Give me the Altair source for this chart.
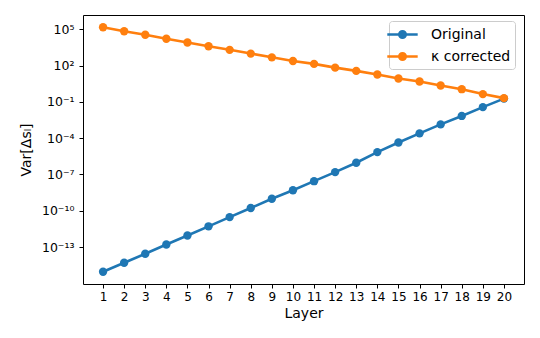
import altair as alt
import pandas as pd

layers = list(range(1, 21))
original = [9.1e-16, 5.1e-15, 2.8e-14, 1.62e-13, 9.1e-13, 5.2e-12, 3.0e-11, 1.7e-10,
            9.8e-10, 5.0e-9, 2.8e-8, 1.58e-7, 9.3e-7, 7.1e-6, 4.4e-5, 2.5e-4,
            1.38e-3, 6.9e-3, 3.7e-2, 0.186]
kappa = [1.48e5, 6.8e4, 3.55e4, 1.66e4, 8.1e3, 4.0e3, 2.0e3, 9.8e2, 4.8e2, 2.4e2,
         1.38e2, 67.6, 36.3, 18.2, 8.5, 4.8, 2.24, 1.12, 0.44, 0.204]
series = ["Original", "κ corrected"]
colors = ["#1f77b4", "#ff7f0e"]
y_ticks = [1e5, 1e2, 1e-1, 1e-4, 1e-7, 1e-10, 1e-13]

df = pd.DataFrame({
    "Layer": layers + layers,
    "Var": original + kappa,
    "Series": [series[0]] * len(layers) + [series[1]] * len(layers),
})

label_expr = (
    "round(log(datum.value)/LN10) == 5 ? '10⁵' : "
    "round(log(datum.value)/LN10) == 2 ? '10²' : "
    "round(log(datum.value)/LN10) == -1 ? '10⁻¹' : "
    "round(log(datum.value)/LN10) == -4 ? '10⁻⁴' : "
    "round(log(datum.value)/LN10) == -7 ? '10⁻⁷' : "
    "round(log(datum.value)/LN10) == -10 ? '10⁻¹⁰' : "
    "round(log(datum.value)/LN10) == -13 ? '10⁻¹³' : ''"
)

# symbol drawn in unit coords scaled by sqrt(size)/2 = 8 px
legend_path = ("M-1.9,0H1.9 "
               "M-0.41,0A0.41,0.41 0 1,0 0.41,0A0.41,0.41 0 1,0 -0.41,0Z "
               "M-0.19,0A0.19,0.19 0 1,0 0.19,0A0.19,0.19 0 1,0 -0.19,0Z")

x_enc = alt.X("Layer:Q",
              scale=alt.Scale(domain=[0.05, 20.95], nice=False, zero=False),
              axis=alt.Axis(values=layers, format="d", title="Layer"))
y_enc = alt.Y("Var:Q",
              scale=alt.Scale(type="log", domain=[10 ** -16.05, 10 ** 6.18], nice=False),
              axis=alt.Axis(values=y_ticks, labelExpr=label_expr, title="Var[Δsₗ]",
                            titleFont="DejaVu Sans, Noto Sans",
                            titlePadding=8, labelPadding=5, labelFontSize=12.5))
color_enc = alt.Color("Series:N",
                      scale=alt.Scale(domain=series, range=colors),
                      legend=alt.Legend(title=None, orient="none", legendX=306, legendY=6,
                                        symbolType=legend_path, symbolSize=256,
                                        symbolStrokeWidth=2.5, labelFontSize=14,
                                        labelFont="DejaVu Sans", labelColor="black",
                                        labelOffset=19, rowPadding=4,
                                        padding=4, strokeColor="#cccccc",
                                        fillColor="white", cornerRadius=3))

base = alt.Chart(df)
parts = []
for s in series:
    f = base.transform_filter(alt.datum.Series == s)
    parts.append(f.mark_line(strokeWidth=2.6).encode(x=x_enc, y=y_enc, color=color_enc))
    parts.append(f.mark_point(filled=True, size=70, opacity=1).encode(x=x_enc, y=y_enc, color=color_enc))

chart = alt.layer(*parts).properties(
    width=441, height=269,
    autosize=alt.AutoSizeParams(type="none"),
    padding={"left": 75, "top": 7, "right": 8, "bottom": 46},
).configure_view(
    stroke="black", strokeWidth=1
).configure_axis(
    domain=False, grid=False, tickColor="black", tickSize=4, tickWidth=1,
    labelFont="DejaVu Sans", labelFontSize=12, labelColor="black",
    titleFont="DejaVu Sans", titleFontSize=14, titleFontWeight="normal",
    titleColor="black", labelPadding=3
)

chart.save("out.html", embed_options={"renderer": "svg", "actions": False})
